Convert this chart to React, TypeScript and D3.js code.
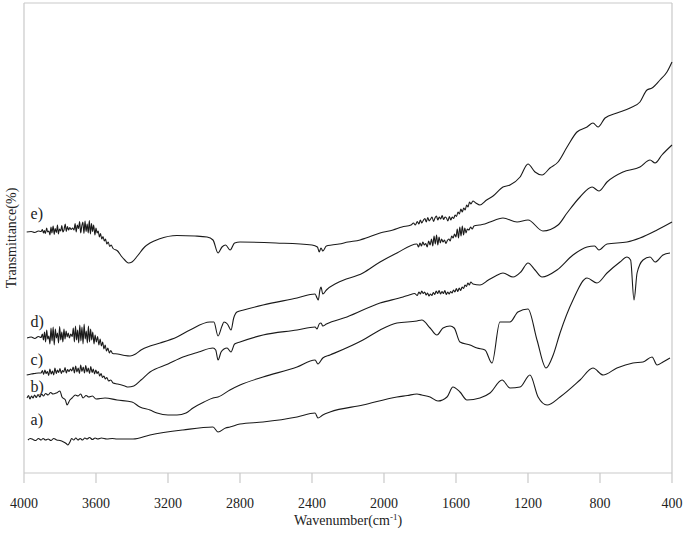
import React from "react";
import * as d3 from "d3";

type P = [number, number];

const xTicks = [4000, 3600, 3200, 2800, 2400, 2000, 1600, 1200, 800, 400];
const seriesNames = ["a)", "b)", "c)", "d)", "e)"];
const labelValues = [9.6, 16.2, 21.6, 29.2, 50.8];

const curveA: P[] = [
  [3978, 6.6], [3965, 6.9], [3950, 6.7], [3935, 6.5], [3920, 6.9], [3905, 6.6], [3894, 6.9], [3880, 6.6], [3866, 6.8],
  [3850, 6.5], [3835, 6.9], [3818, 6.6], [3800, 6.5], [3780, 6.2], [3766, 5.9], [3756, 5.6], [3745, 6.2], [3735, 6.9],
  [3724, 6.6], [3712, 7.0], [3700, 6.6], [3688, 6.9], [3675, 6.6], [3662, 7.0], [3650, 6.8], [3636, 7.1], [3620, 6.7],
  [3605, 7.0], [3590, 6.8], [3570, 7.0], [3540, 6.8], [3510, 6.9], [3483, 6.8], [3394, 6.8], [3300, 7.6],
  [3117, 8.6], [2950, 9.2], [2922, 8.2], [2880, 9.0], [2856, 9.2], [2800, 9.8], [2672, 10.2], [2483, 11.2],
  [2383, 12.0], [2367, 11.0], [2340, 11.6], [2300, 12.2], [2117, 13.6], [1928, 15.2], [1870, 15.5], [1817, 15.8],
  [1790, 15.6], [1744, 15.2], [1700, 14.4], [1650, 15.2], [1617, 17.2], [1578, 16.2], [1539, 14.6], [1467, 15.0],
  [1411, 16.0], [1344, 18.6], [1300, 17.0], [1244, 17.2], [1189, 19.6], [1144, 15.2], [1094, 13.6], [1022, 15.2],
  [911, 18.6], [839, 21.0], [783, 19.6], [706, 21.0], [617, 22.0], [561, 22.2], [511, 23.2], [483, 21.6],
  [450, 22.2], [411, 23.0]
];

const curveB: P[] = [
  [3983, 15.0], [3975, 15.5], [3967, 14.8], [3958, 15.4], [3950, 15.0], [3941, 15.6], [3932, 15.1], [3922, 15.7],
  [3912, 15.2], [3902, 15.8], [3892, 15.4], [3880, 15.9], [3866, 15.6], [3852, 16.1], [3839, 15.8], [3820, 16.0],
  [3800, 16.4], [3789, 15.2], [3770, 14.6], [3761, 13.6], [3745, 14.6], [3733, 15.0], [3715, 15.6], [3700, 15.4],
  [3685, 15.8], [3672, 15.0], [3655, 15.5], [3640, 15.2], [3620, 15.4], [3600, 14.8], [3550, 15.0], [3483, 14.6],
  [3400, 14.2], [3356, 13.2], [3300, 12.6], [3261, 12.0], [3200, 11.6], [3150, 11.6], [3100, 12.0], [3061, 13.0],
  [3000, 14.2], [2950, 15.0], [2922, 15.2], [2856, 16.6], [2800, 17.6], [2672, 19.2], [2483, 21.2], [2383, 22.6],
  [2367, 21.8], [2340, 23.0], [2300, 23.6], [2117, 26.6], [2022, 28.6], [1928, 30.0], [1817, 30.4], [1790, 30.6],
  [1744, 29.0], [1706, 27.6], [1672, 29.0], [1633, 29.4], [1610, 29.0], [1578, 26.2], [1522, 25.6], [1483, 25.0],
  [1439, 24.6], [1400, 22.0], [1356, 30.2], [1300, 30.2], [1256, 32.2], [1200, 32.8], [1150, 26.6], [1100, 21.0],
  [1060, 23.6], [1022, 28.0], [950, 34.6], [872, 39.0], [817, 38.0], [761, 40.0], [689, 42.2], [650, 43.2],
  [630, 42.6], [611, 34.6], [594, 40.0], [561, 42.6], [522, 43.2], [494, 42.2], [450, 43.6], [411, 44.0]
];

const curveC: P[] = [
  [3985, 19.6], [3960, 19.8], [3940, 19.9], [3920, 20.0], [3905, 20.0],
  [3898, 20.5], [3891, 19.7], [3884, 20.6], [3877, 19.9], [3870, 20.3], [3863, 19.5], [3856, 20.8], [3849, 19.8],
  [3842, 20.4], [3835, 19.6], [3828, 21.0], [3821, 19.9], [3814, 20.6], [3807, 20.1], [3800, 20.9], [3793, 19.9],
  [3786, 20.5], [3779, 20.2], [3772, 21.1], [3765, 20.0], [3758, 20.7], [3750, 20.3], [3742, 20.8], [3734, 20.4],
  [3727, 21.2], [3720, 20.0], [3713, 21.4], [3706, 20.2], [3699, 21.0], [3692, 19.9], [3685, 21.6], [3678, 20.3],
  [3671, 21.2], [3664, 20.0], [3657, 21.5], [3650, 20.2], [3643, 21.0], [3636, 19.9], [3629, 21.3], [3622, 20.1],
  [3615, 20.8], [3608, 19.8], [3601, 20.6], [3594, 19.9], [3587, 20.3], [3580, 19.4], [3572, 19.9], [3564, 19.1],
  [3556, 19.4], [3548, 18.8], [3540, 19.1], [3530, 18.4], [3518, 18.6], [3505, 18.0],
  [3480, 17.8], [3440, 17.4], [3422, 17.2], [3390, 17.4], [3350, 18.6], [3300, 20.2], [3200, 21.8], [3117, 23.2],
  [3030, 24.2], [2950, 25.0], [2935, 24.6], [2922, 22.6], [2905, 24.2], [2889, 24.8], [2872, 25.0], [2850, 24.2],
  [2830, 25.8], [2800, 26.2], [2672, 27.6], [2483, 28.6], [2383, 29.2], [2372, 28.8], [2360, 29.8], [2350, 30.0],
  [2340, 29.4], [2320, 29.8], [2206, 31.2], [2022, 34.0], [1894, 35.2],
  [1860, 35.6], [1830, 35.9], [1815, 35.5], [1806, 36.2], [1798, 35.8], [1790, 36.4], [1782, 35.9], [1774, 36.2],
  [1766, 35.6], [1758, 36.0], [1750, 35.4], [1742, 35.8], [1734, 35.5], [1726, 36.1], [1718, 35.7], [1710, 36.4],
  [1702, 35.9], [1694, 36.5], [1686, 35.8], [1678, 36.3], [1670, 35.9], [1662, 36.5], [1654, 35.7], [1646, 36.2],
  [1638, 35.8], [1630, 36.3], [1622, 36.0], [1614, 36.6], [1606, 36.2], [1598, 36.9], [1590, 36.3], [1582, 37.0],
  [1574, 36.5], [1566, 37.2], [1558, 36.9], [1550, 37.6], [1542, 37.3], [1534, 38.0], [1526, 37.6], [1518, 38.2],
  [1506, 37.8], [1467, 37.6], [1420, 38.6], [1380, 39.4], [1339, 40.0], [1283, 39.2], [1240, 40.2], [1200, 42.0],
  [1161, 40.6], [1122, 39.2], [1039, 40.6], [950, 43.6], [872, 45.2], [830, 45.4], [806, 44.6], [761, 45.8],
  [650, 46.2], [578, 47.0], [483, 48.6], [400, 50.2]
];

const curveD: P[] = [
  [3983, 27.0], [3960, 27.2], [3940, 26.9], [3920, 27.3], [3905, 27.1],
  [3898, 27.8], [3892, 26.6], [3886, 28.2], [3880, 26.2], [3874, 28.6], [3868, 26.8], [3862, 27.4], [3856, 25.8],
  [3850, 29.0], [3844, 26.4], [3838, 29.2], [3832, 25.6], [3826, 28.8], [3820, 27.0], [3814, 28.0], [3808, 26.0],
  [3802, 29.3], [3796, 26.6], [3790, 28.2], [3784, 26.2], [3778, 28.8], [3772, 26.8], [3766, 28.4], [3760, 27.2],
  [3754, 28.0], [3748, 27.0], [3740, 27.8], [3732, 27.3], [3726, 29.0], [3720, 26.2], [3714, 29.4], [3708, 26.6],
  [3702, 28.6], [3696, 26.0], [3690, 29.6], [3684, 26.4], [3678, 29.2], [3672, 25.8], [3666, 29.8], [3660, 26.8],
  [3654, 28.4], [3648, 26.0], [3642, 29.4], [3636, 26.2], [3630, 28.8], [3624, 26.6], [3618, 28.2], [3611, 25.8],
  [3605, 27.6], [3598, 26.2], [3591, 27.3], [3584, 25.6], [3577, 26.8], [3570, 25.4], [3563, 26.2], [3556, 24.8],
  [3549, 25.6], [3542, 24.4], [3534, 25.0], [3526, 24.0], [3518, 24.5], [3508, 23.9],
  [3480, 23.8], [3440, 23.5], [3411, 23.4], [3380, 23.8], [3350, 24.6], [3300, 25.4], [3244, 26.0], [3150, 27.2],
  [3078, 28.6], [2967, 30.2], [2945, 30.2], [2922, 27.4], [2900, 29.4], [2889, 30.2], [2870, 29.8], [2850, 28.6],
  [2835, 31.0], [2817, 32.2], [2780, 32.6], [2672, 33.6], [2483, 35.0], [2383, 35.8], [2372, 35.0], [2365, 34.6],
  [2356, 36.6], [2350, 37.2], [2340, 35.8], [2320, 36.6], [2261, 38.0], [2117, 40.0], [2022, 42.2], [1928, 44.0],
  [1817, 45.8], [1808, 45.2], [1800, 46.0], [1792, 45.4], [1784, 46.2], [1776, 45.6], [1768, 45.9], [1760, 45.2],
  [1752, 46.4], [1744, 45.6], [1736, 46.8], [1729, 45.4], [1722, 47.4], [1715, 45.8], [1708, 47.6], [1701, 45.6],
  [1694, 47.2], [1687, 46.0], [1680, 46.8], [1672, 46.2], [1664, 46.6], [1656, 45.9], [1648, 46.5], [1640, 46.8],
  [1632, 46.4], [1624, 47.4], [1616, 47.0], [1608, 47.8], [1600, 47.2], [1593, 48.8], [1586, 47.0], [1579, 49.2],
  [1572, 47.4], [1565, 49.4], [1558, 47.6], [1551, 49.0], [1544, 48.0], [1537, 48.8], [1528, 48.6], [1519, 49.2],
  [1510, 48.8], [1500, 49.4], [1470, 49.6], [1440, 49.8], [1411, 50.2], [1339, 51.0], [1261, 50.2], [1200, 50.6],
  [1117, 48.4], [1033, 49.6], [983, 52.0], [911, 55.2], [844, 57.2], [806, 56.4], [761, 58.2], [672, 60.2],
  [578, 61.2], [522, 62.6], [494, 62.0], [456, 63.6], [400, 65.6]
];

const curveE: P[] = [
  [3985, 48.2], [3960, 48.3], [3940, 48.1], [3920, 48.4], [3905, 48.3],
  [3898, 48.7], [3892, 48.0], [3887, 48.5], [3881, 47.9], [3874, 49.0], [3869, 48.2], [3862, 48.4], [3856, 47.6],
  [3850, 49.2], [3845, 48.0], [3838, 49.4], [3832, 47.7], [3827, 48.9], [3820, 48.1], [3814, 49.6], [3809, 47.8],
  [3803, 48.8], [3796, 48.4], [3790, 49.5], [3784, 48.2], [3778, 48.6], [3771, 49.8], [3765, 48.3], [3759, 49.3],
  [3752, 48.6], [3746, 49.1], [3738, 48.7], [3730, 49.0], [3722, 48.6], [3716, 49.9], [3710, 48.2], [3704, 49.6],
  [3697, 48.9], [3691, 50.3], [3685, 48.0], [3679, 49.4], [3673, 50.2], [3667, 47.9], [3661, 50.4], [3655, 48.3],
  [3649, 49.8], [3643, 48.0], [3637, 50.5], [3631, 47.8], [3625, 49.9], [3619, 48.3], [3613, 49.6], [3606, 47.6],
  [3600, 49.0], [3594, 48.0], [3588, 48.4], [3581, 47.2], [3575, 47.9], [3568, 46.8], [3561, 47.3], [3554, 46.4],
  [3547, 46.8], [3540, 45.8], [3532, 46.2], [3524, 45.3], [3516, 45.6], [3505, 44.9],
  [3480, 44.4], [3460, 43.4], [3440, 42.6], [3420, 42.0], [3400, 42.2], [3370, 43.4], [3330, 45.2], [3300, 46.0],
  [3250, 46.8], [3150, 47.5], [3050, 47.4], [2983, 47.2], [2950, 46.6], [2922, 44.0], [2900, 45.2], [2880, 45.6],
  [2855, 44.6], [2830, 46.0], [2800, 46.2], [2600, 46.0], [2400, 45.6], [2370, 45.2], [2360, 44.2], [2350, 45.0],
  [2340, 44.4], [2320, 45.4], [2290, 45.6], [2250, 45.8], [2200, 46.2], [2133, 46.6], [2100, 47.0], [2022, 48.0],
  [1950, 48.6], [1900, 49.2], [1850, 49.6],
  [1836, 50.0], [1826, 49.6], [1815, 50.3], [1806, 49.8], [1798, 50.6], [1790, 50.0], [1782, 50.5], [1773, 50.9],
  [1765, 50.2], [1757, 51.1], [1749, 50.4], [1741, 50.8], [1733, 51.2], [1725, 50.3], [1717, 51.0], [1709, 51.4],
  [1701, 50.6], [1693, 51.2], [1685, 50.8], [1677, 51.5], [1669, 50.7], [1661, 51.2], [1653, 51.0], [1645, 50.4],
  [1637, 51.3], [1629, 50.6], [1621, 51.2], [1613, 50.9], [1605, 51.6], [1597, 51.3], [1589, 52.2], [1581, 51.8],
  [1573, 52.8], [1565, 52.2], [1557, 53.0], [1549, 52.6], [1541, 53.6], [1533, 53.2], [1525, 54.2], [1517, 53.8],
  [1506, 54.4], [1490, 54.0], [1467, 53.6], [1430, 54.6], [1394, 55.4], [1339, 57.2], [1300, 57.6], [1244, 59.2],
  [1200, 61.8], [1161, 60.2], [1122, 59.6], [1078, 61.0], [1033, 62.2], [983, 65.2], [928, 68.2], [872, 69.2],
  [839, 70.0], [811, 69.2], [772, 71.0], [706, 72.0], [633, 73.0], [578, 74.2], [539, 76.6], [511, 77.0],
  [467, 78.6], [428, 80.2], [400, 82.2]
];

const curves = [curveA, curveB, curveC, curveD, curveE];

const W = 685;
const H = 533;

export default function App() {
  const x = d3.scaleLinear().domain([4000, 400]).range([24, 672]);
  const y = d3.scaleLinear().domain([0, 94]).range([473, 3]);
  const line = d3
    .line<P>()
    .x((d) => x(d[0]))
    .y((d) => y(d[1]))
    .curve(d3.curveMonotoneX);
  const axisColor = "#c9c9c9";
  const font = "'Liberation Serif', 'Times New Roman', serif";

  return (
    <svg
      width={W}
      height={H}
      style={{ position: "absolute", left: 0, top: 0, background: "#fff" }}
      fontFamily={font}
    >
      <rect x={0} y={0} width={W} height={H} fill="#fff" />
      <line x1={x(4000)} x2={x(400)} y1={y(94)} y2={y(94)} stroke={axisColor} strokeWidth={1.2} />
      <line x1={x(4000)} x2={x(4000)} y1={y(94)} y2={y(0)} stroke={axisColor} strokeWidth={1.2} />
      <line x1={x(400)} x2={x(400)} y1={y(94)} y2={y(0)} stroke={axisColor} strokeWidth={1.2} />
      <line x1={x(4000)} x2={x(400)} y1={y(0)} y2={y(0)} stroke={axisColor} strokeWidth={1.2} />
      {xTicks.map((t) => (
        <g key={t}>
          <line x1={x(t)} x2={x(t)} y1={y(0)} y2={y(0) + 10} stroke={axisColor} strokeWidth={1.2} />
          <text x={x(t)} y={508} textAnchor="middle" fontSize={14} fill="#222">
            {t}
          </text>
        </g>
      ))}
      <text x={(x(4000) + x(400)) / 2} y={525} textAnchor="middle" fontSize={14} fill="#222">
        Wavenumber(cm
        <tspan fontSize={9} dy={-5}>-1</tspan>
        <tspan dy={5}>)</tspan>
      </text>
      <text
        transform={`translate(16, ${(y(0) + y(94)) / 2}) rotate(-90)`}
        textAnchor="middle"
        fontSize={14}
        fill="#222"
      >
        Transmittance(%)
      </text>
      {curves.map((c, i) => (
        <path key={i} d={line(c) || ""} fill="none" stroke="#1a1a1a" strokeWidth={1.1} strokeLinejoin="round" />
      ))}
      {seriesNames.map((n, i) => (
        <text key={n} x={x(3980) + 3} y={y(labelValues[i])} fontSize={16} fill="#222">
          {n}
        </text>
      ))}
    </svg>
  );
}
